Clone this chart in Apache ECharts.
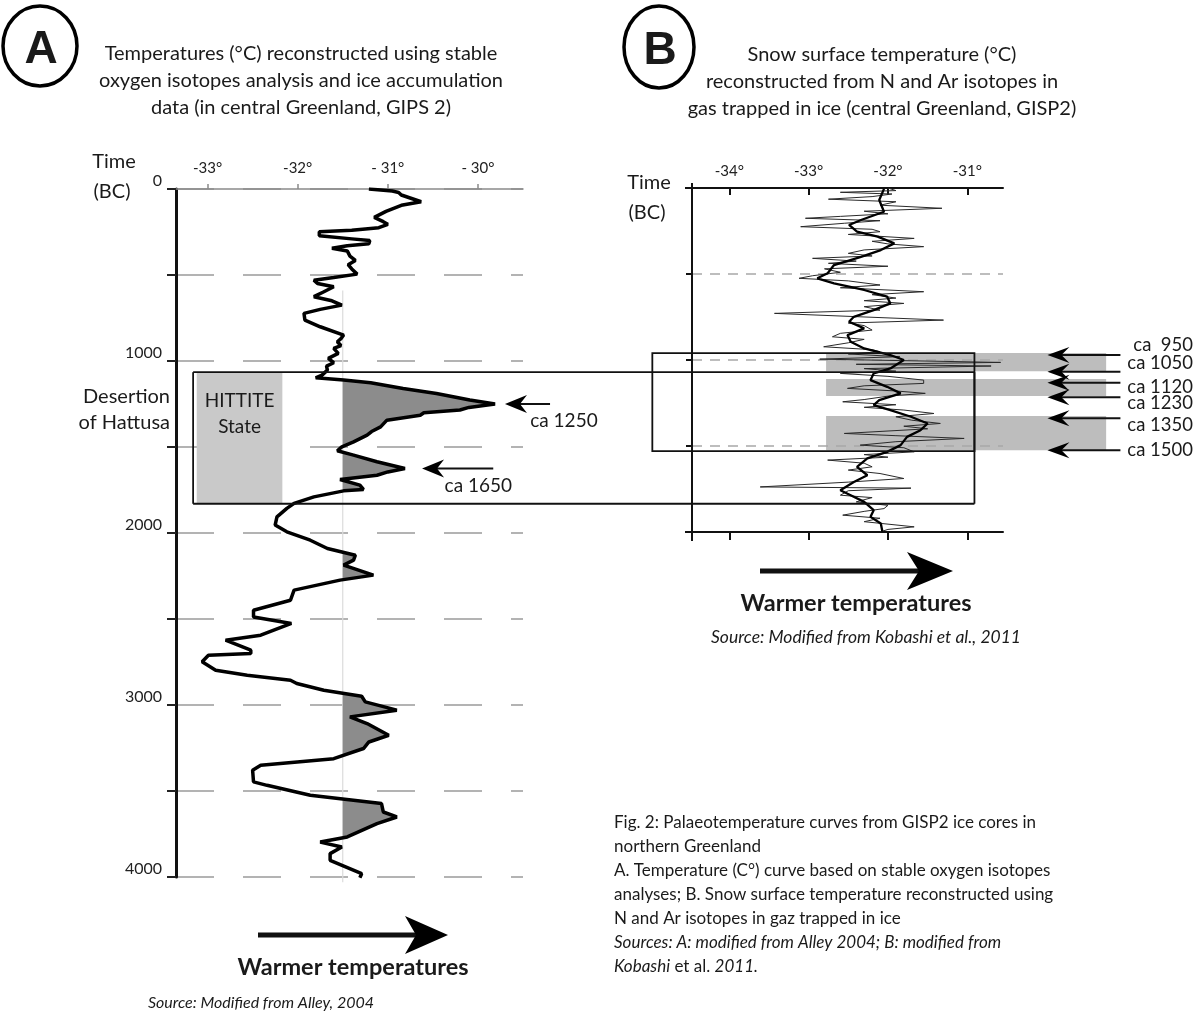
<!DOCTYPE html>
<html><head><meta charset="utf-8">
<script src="https://cdn.jsdelivr.net/npm/echarts@6/dist/echarts.min.js"></script>
<style>html,body{margin:0;padding:0;background:#fff}#c{width:1203px;height:1018px}</style>
</head><body><div id="c"></div>
<script>
// ---------- DATA ----------
// Panel A: GISP2 oxygen-isotope temperature (year BC, °C)
const yearsA = [0,12,20,35,74,95,130,165,190,205,225,240,248,272,290,300,318,330,345,360,390,415,440,465,495,515,530,549,568,600,626,650,675,700,723,762,801,849,870,888,910,927,956,985,1010,1030,1053,1082,1098,1111,1127,1160,1189,1227,1250,1270,1285,1301,1315,1344,1383,1410,1431,1470,1499,1522,1547,1586,1625,1645,1664,1689,1722,1747,1755,1790,1828,1857,1906,1954,1993,2042,2090,2129,2158,2187,2245,2274,2332,2391,2449,2488,2526,2594,2623,2681,2701,2711,2749,2798,2827,2856,2875,2914,2949,2982,3030,3069,3108,3176,3215,3253,3312,3350,3379,3447,3467,3525,3573,3622,3651,3690,3767,3797,3826,3864,3903,3981,4004];
const tempsA = [-31.21,-30.95,-30.88,-30.85,-30.63,-30.85,-31.02,-31.15,-31.05,-31.00,-31.10,-31.40,-31.76,-31.76,-31.40,-31.20,-31.21,-31.45,-31.62,-31.45,-31.42,-31.36,-31.44,-31.40,-31.34,-31.60,-31.82,-31.78,-31.60,-31.72,-31.82,-31.62,-31.51,-31.75,-31.93,-31.92,-31.75,-31.49,-31.52,-31.56,-31.52,-31.60,-31.55,-31.66,-31.60,-31.68,-31.67,-31.73,-31.80,-31.49,-31.19,-30.83,-30.46,-30.09,-29.81,-30.10,-30.20,-30.60,-30.64,-31.01,-31.08,-31.18,-31.23,-31.38,-31.51,-31.56,-31.38,-31.12,-30.81,-31.00,-31.12,-31.53,-31.31,-31.27,-31.49,-31.82,-32.04,-32.12,-32.23,-32.25,-32.12,-31.86,-31.67,-31.36,-31.38,-31.49,-31.16,-31.53,-32.04,-32.08,-32.49,-32.49,-32.07,-32.41,-32.80,-32.52,-32.52,-32.99,-33.06,-32.91,-32.56,-32.08,-32.01,-31.71,-31.29,-31.25,-30.90,-31.42,-31.23,-30.99,-31.21,-31.27,-31.60,-32.41,-32.50,-32.49,-32.34,-31.86,-31.07,-31.05,-30.90,-31.12,-31.45,-31.75,-31.51,-31.64,-31.64,-31.29,-31.31];
const thresholdA = -31.5;
const fillIntervalsA = [[1080,1760],[2120,2290],[2940,3320],[3520,3790]];
const tickValsA = [-33,-32,-31,-30];
const tickLabelsA = ['-33°','-32°','- 31°','- 30°'];
const yLabelStepA = 1000;

// Panel B: snow surface temperature, smoothed curve and raw curve
const yearsBs = [5,12,70,138,186,215,254,283,322,361,400,448,496,525,554,593,632,671,710,749,778,816,855,894,933,971,1000,1049,1078,1117,1156,1194,1233,1262,1291,1330,1369,1408,1447,1495,1534,1572,1621,1670,1709,1757,1786,1825,1873,1912,1951,1999];
const tempsBs = [-32.05,-32.05,-32.11,-32.05,-32.34,-32.49,-32.39,-32.13,-31.92,-32.09,-32.34,-32.68,-32.76,-32.89,-32.68,-32.30,-32.01,-31.97,-32.18,-32.43,-32.49,-32.30,-32.51,-32.47,-32.30,-31.97,-31.80,-31.97,-32.18,-32.22,-32.01,-31.84,-32.11,-32.18,-31.97,-31.71,-31.50,-31.59,-31.76,-31.84,-32.01,-32.26,-32.39,-32.26,-32.43,-32.60,-32.47,-32.30,-32.18,-32.22,-32.09,-32.07];
const yearsBr = [0,15,25,35,50,65,80,100,118,135,150,165,176,190,205,225,240,254,270,293,310,325,341,360,380,395,409,425,438,455,470,490,510,525,540,564,580,603,620,640,655,671,690,710,729,748,768,785,800,826,845,865,880,900,923,940,952,965,981,995,1014,1025,1035,1050,1065,1078,1095,1117,1136,1150,1165,1180,1194,1210,1230,1243,1260,1275,1291,1311,1330,1350,1369,1385,1400,1427,1440,1456,1475,1495,1510,1534,1550,1565,1582,1600,1621,1640,1660,1689,1710,1738,1745,1760,1786,1800,1825,1845,1864,1880,1902,1920,1940,1970,1985,2000];
const tempsBr = [-32.0,-31.9,-32.6,-31.95,-32.2,-32.75,-31.9,-32.1,-31.32,-32.3,-32.0,-32.6,-33.04,-32.1,-32.55,-33.1,-32.2,-32.1,-32.5,-31.67,-32.2,-32.0,-31.55,-32.3,-32.5,-32.2,-32.95,-32.4,-32.75,-32.0,-32.8,-32.6,-32.95,-33.12,-32.5,-32.1,-32.6,-31.55,-32.2,-31.9,-32.3,-31.8,-32.3,-32.1,-33.43,-32.4,-31.3,-32.5,-32.3,-32.2,-32.6,-32.7,-32.3,-32.5,-32.81,-32.2,-32.1,-32.5,-31.85,-32.86,-30.58,-32.4,-30.7,-32.3,-31.9,-32.6,-32.0,-31.55,-31.55,-32.3,-32.51,-31.9,-31.53,-32.0,-32.3,-32.57,-31.9,-32.3,-31.8,-31.42,-31.9,-31.7,-31.34,-31.8,-31.5,-32.55,-31.9,-31.04,-31.9,-32.35,-31.8,-31.67,-32.3,-32.0,-32.76,-32.3,-32.2,-32.5,-32.1,-31.8,-32.5,-33.61,-31.71,-32.5,-32.6,-32.2,-32.4,-32.0,-32.05,-32.3,-32.57,-32.1,-32.3,-31.67,-32.0,-32.1];
const tickValsB = [-34,-33,-32,-31];
const tickLabelsB = ['-34°','-33°','-32°','-31°'];
const yTickValsB = [500,1000,1500];

// Annotations (years / temperatures)
const boxAYears = [1065,1830];
const hittiteTemps = [-33.12,-32.17];
const boxBYears = [960,1530];
const bandsBYears = [[960,1065],[1110,1210],[1325,1525]];
const bandsBTemps = [-32.78,-29.25];
const arrowsA = [{label:'ca 1250', year:1250, tip:-29.70, tail:-29.20, lab:-29.42}, {label:'ca 1650', year:1625, tip:-30.62, tail:-29.83, lab:-30.37}];
const arrowsBLabels = ['ca  950','ca 1050','ca 1120','ca 1230','ca 1350','ca 1500'];
const arrowsBYears = [971,1068,1132,1217,1339,1524];
const arrowsBLabelYears = [913,1018,1158,1251,1379,1524];

// ---------- CHART ----------
const FONT = 'Lato, "Open Sans", sans-serif';
const zip = (ys, ts) => ys.map((y, i) => [ts[i], y]);

function fillPoints(iv) {
  const [y0, y1] = iv, TH = thresholdA, pts = [];
  for (let i = 0; i < yearsA.length - 1; i++) {
    const ya = yearsA[i], yb = yearsA[i+1], ta = tempsA[i], tb = tempsA[i+1];
    if (yb < y0 || ya > y1) continue;
    if (pts.length === 0) pts.push([Math.max(ta, TH), ya]);
    if ((ta - TH) * (tb - TH) < 0) { const f = (TH - ta) / (tb - ta); pts.push([TH, ya + f * (yb - ya)]); }
    pts.push([Math.max(tb, TH), yb]);
  }
  pts.push([TH, pts[pts.length-1][1]]);
  pts.push([TH, pts[0][1]]);
  return pts;
}

const chart = echarts.init(document.getElementById('c'));
const labStyle = {fontSize:15, color:'#222', fontFamily:FONT};
chart.setOption({
  animation:false,
  backgroundColor:'#fff',
  grid:[
    {left:176, top:189, width:347, height:688, containLabel:false, outerBoundsMode:'none'},
    {left:692, top:188, width:311, height:344, containLabel:false, outerBoundsMode:'none'}
  ],
  xAxis:[
    {gridIndex:0, type:'value', position:'top', min:-33.35, max:-29.5,
     axisLine:{show:true, lineStyle:{color:'#8a8a8a', width:1.5}},
     axisTick:{show:true, customValues:tickValsA, length:5, lineStyle:{color:'#8a8a8a', width:1.5}},
     axisLabel:Object.assign({customValues:tickValsA, margin:13, formatter:v => tickLabelsA[tickValsA.indexOf(Math.round(v))] || ''}, labStyle),
     splitLine:{show:false}},
    {gridIndex:1, type:'value', position:'top', min:-34.47, max:-30.55,
     axisLine:{show:true, lineStyle:{color:'#111', width:2}},
     axisTick:{show:true, inside:true, customValues:tickValsB, length:7, lineStyle:{color:'#111', width:2}},
     axisLabel:Object.assign({customValues:tickValsB, margin:9, formatter:v => tickLabelsB[tickValsB.indexOf(Math.round(v))] || ''}, labStyle),
     splitLine:{show:false}},
    {gridIndex:1, type:'value', position:'bottom', min:-34.47, max:-30.55,
     axisLine:{show:true, lineStyle:{color:'#111', width:2}},
     axisTick:{show:true, customValues:tickValsB, length:8, lineStyle:{color:'#111', width:2}},
     axisLabel:{show:false}, splitLine:{show:false}}
  ],
  yAxis:[
    {gridIndex:0, type:'value', inverse:true, min:0, max:4000, interval:500,
     axisLine:{show:true, lineStyle:{color:'#111', width:3}},
     axisTick:{show:true, length:9, lineStyle:{color:'#222', width:2}},
     axisLabel:Object.assign({margin:14, verticalAlign:'bottom', formatter:v => v % yLabelStepA === 0 ? String(v) : ''}, labStyle, {fontSize:16}),
     splitLine:{show:true, lineStyle:{type:[38,29], color:'#9a9a9a', width:1.5}}},
    {gridIndex:1, type:'value', inverse:true, min:0, max:2000, interval:500,
     axisLine:{show:true, lineStyle:{color:'#111', width:2}},
     axisTick:{show:true, customValues:yTickValsB, length:6, lineStyle:{color:'#111', width:2}},
     axisLabel:{show:false},
     splitLine:{show:true, lineStyle:{type:[10,8], color:'#a8a8a8', width:1.5}}}
  ],
  series:[
    {type:'custom', xAxisIndex:0, yAxisIndex:0, z:3, silent:true,
     data:fillIntervalsA.map(iv => [thresholdA, iv[0]]), encode:{x:0, y:1},
     renderItem:(params, api) => ({type:'polygon', shape:{points:fillPoints(fillIntervalsA[params.dataIndex]).map(p => api.coord(p))}, style:{fill:'#8c8c8c'}})},
    {type:'line', xAxisIndex:0, yAxisIndex:0, z:2, showSymbol:false, clip:false, silent:true,
     data:[[thresholdA, 590],[thresholdA, 4030]], lineStyle:{color:'#dcdcdc', width:1.2}},
    {type:'line', xAxisIndex:0, yAxisIndex:0, z:5, showSymbol:false, silent:true,
     data:zip(yearsA, tempsA), lineStyle:{color:'#000', width:3.5}},
    {type:'line', xAxisIndex:1, yAxisIndex:1, z:5, showSymbol:false, silent:true,
     data:zip(yearsBr, tempsBr), lineStyle:{color:'#2a2a2a', width:1}},
    {type:'line', xAxisIndex:1, yAxisIndex:1, z:6, showSymbol:false, silent:true,
     data:zip(yearsBs, tempsBs), lineStyle:{color:'#000', width:2.3}}
  ]
});

// ---------- ANNOTATIONS ----------
const pA = (t, y) => chart.convertToPixel({xAxisIndex:0, yAxisIndex:0}, [t, y]);
const pB = (t, y) => chart.convertToPixel({xAxisIndex:1, yAxisIndex:1}, [t, y]);
const G = [];
function txt(x, y, text, o) {
  o = o || {};
  const al = o.align || 'center';
  G.push({type:'text', x, y, z:20, silent:true, style:{text, fill:'#1a1a1a', fontFamily:o.fontFamily || FONT, fontSize:o.fontSize || 17,
    fontWeight:o.fontWeight || 'normal', fontStyle:o.fontStyle || 'normal', align:al, textAlign:al, verticalAlign:'middle', textVerticalAlign:'middle', rich:o.rich}});
}
function line(x1, y1, x2, y2, w, c, z) { G.push({type:'line', z:z || 15, silent:true, shape:{x1, y1, x2, y2}, style:{stroke:c || '#111', lineWidth:w || 1.8}}); }
function rect(x1, y1, x2, y2, fill, z) { G.push({type:'rect', z:z, silent:true, shape:{x:Math.min(x1,x2), y:Math.min(y1,y2), width:Math.abs(x2-x1), height:Math.abs(y2-y1)}, style:{fill}}); }
function head(tx, y, len, half, notch, dir) { // dir -1: points left
  G.push({type:'polygon', z:16, silent:true, shape:{points:[[tx, y],[tx - dir*len, y - half],[tx - dir*notch, y],[tx - dir*len, y + half]]}, style:{fill:'#000'}});
}

// circles + titles
G.push({type:'ellipse', z:15, silent:true, shape:{cx:40, cy:46, rx:37, ry:40}, style:{fill:'none', stroke:'#000', lineWidth:3.5}});
G.push({type:'ellipse', z:15, silent:true, shape:{cx:659, cy:47, rx:35, ry:41}, style:{fill:'none', stroke:'#000', lineWidth:3.5}});
txt(41, 50, 'A', {fontSize:46, fontWeight:'bold', fontFamily:'"Liberation Sans", Arial, sans-serif'});
txt(660, 51, 'B', {fontSize:46, fontWeight:'bold', fontFamily:'"Liberation Sans", Arial, sans-serif'});
['Temperatures (°C) reconstructed using stable','oxygen isotopes analysis and ice accumulation','data (in central Greenland, GIPS 2)'].forEach((s, i) => txt(301, 54 + i*27, s, {fontSize:20}));
['Snow surface temperature (°C)','reconstructed from N and Ar isotopes in','gas trapped in ice (central Greenland, GISP2)'].forEach((s, i) => txt(882, 55 + i*27, s, {fontSize:20}));

// axis captions
txt(114, 162, 'Time', {fontSize:20}); txt(112, 192, '(BC)', {fontSize:20});
txt(649, 183, 'Time', {fontSize:20}); txt(647, 213, '(BC)', {fontSize:20});

// Panel A box + HITTITE
const [ha1, ha2] = [pA(hittiteTemps[0], boxAYears[0]), pA(hittiteTemps[1], boxAYears[1])];
rect(ha1[0], ha1[1], ha2[0], ha2[1], '#c9c9c9', 1);
const boxL = pA(-33.16, boxAYears[0])[0], boxR = pB(-30.91, 0)[0];
const bTop = pA(0, boxAYears[0])[1], bBot = pA(0, boxAYears[1])[1];
line(boxL, bTop, boxR, bTop); line(boxL, bBot, boxR, bBot); line(boxL, bTop, boxL, bBot); line(boxR, bTop, boxR, bBot);
txt((ha1[0]+ha2[0])/2, bTop + 29, 'HITTITE', {fontSize:19}); txt((ha1[0]+ha2[0])/2, bTop + 55, 'State', {fontSize:19});
txt(170, 397, 'Desertion', {fontSize:20, align:'right'}); txt(170, 423, 'of Hattusa', {fontSize:20, align:'right'});

// Panel A arrows
arrowsA.forEach(a => {
  const tip = pA(a.tip, a.year), tail = pA(a.tail, a.year), lab = pA(a.lab, a.year);
  line(tip[0] + 12, tip[1], tail[0], tip[1], 2);
  head(tip[0], tip[1], 22, 9, 15, -1);
  txt(lab[0], tip[1] + 17, a.label, {fontSize:19, align:'left'});
});

// Panel B bands + box
bandsBYears.forEach(b => { const p1 = pB(bandsBTemps[0], b[0]), p2 = pB(bandsBTemps[1], b[1]); rect(p1[0], p1[1], p2[0], p2[1], '#bdbdbd', -1); });
const bb1 = pB(-34.97, boxBYears[0]), bb2 = pB(-30.91, boxBYears[1]);
G.push({type:'rect', z:15, silent:true, shape:{x:bb1[0], y:bb1[1], width:bb2[0]-bb1[0], height:bb2[1]-bb1[1]}, style:{fill:'none', stroke:'#111', lineWidth:1.8}});

// Panel B axis extensions
const c0 = pB(-34.47, 0), c1 = pB(-34.47, 2000);
line(c0[0] - 7, c0[1], c0[0], c0[1], 2); line(c1[0] - 7, c1[1], c1[0], c1[1], 2);
line(c0[0], c0[1] - 5, c0[0], c0[1], 2); line(c1[0], c1[1], c1[0], c1[1] + 9, 2);

// Panel B arrows
arrowsBYears.forEach((yr, i) => {
  const tip = pB(-29.99, yr), tail = pB(-29.07, yr), lab = pB(-29.07, arrowsBLabelYears[i]);
  line(tip[0] + 12, tip[1], tail[0], tip[1], 2);
  head(tip[0], tip[1], 22, 8, 14, -1);
  txt(1193, lab[1], arrowsBLabels[i], {fontSize:18.5, align:'right'});
});

// warmer arrows
line(258, 935, 418, 935, 5); head(448, 935, 43, 19, 32, 1);
txt(353, 967, 'Warmer temperatures', {fontSize:23.5, fontWeight:'bold'});
txt(261, 1003, 'Source: Modified from Alley, 2004', {fontSize:16, fontStyle:'italic'});
line(760, 571, 922, 571, 5); head(953, 571, 46, 19, 34, 1);
txt(856, 603, 'Warmer temperatures', {fontSize:23.5, fontWeight:'bold'});
txt(866, 637, 'Source: Modified from Kobashi et al., 2011', {fontSize:17.5, fontStyle:'italic'});

// caption
const cap = ['Fig. 2: Palaeotemperature curves from GISP2 ice cores in','northern Greenland','A. Temperature (C°) curve based on stable oxygen isotopes','analyses; B. Snow surface temperature reconstructed using','N and Ar isotopes in gaz trapped in ice'];
cap.forEach((s, i) => txt(614, 823 + i*24, s, {fontSize:17, align:'left'}));
txt(614, 943, 'Sources: A: modified from Alley 2004; B: modified from', {fontSize:17, align:'left', fontStyle:'italic'});
txt(614, 967, '{i|Kobashi} et al. {i|2011.}', {fontSize:17, align:'left', rich:{i:{fontStyle:'italic', fontSize:17, fontFamily:FONT}}});

chart.setOption({graphic:G});
</script></body></html>
